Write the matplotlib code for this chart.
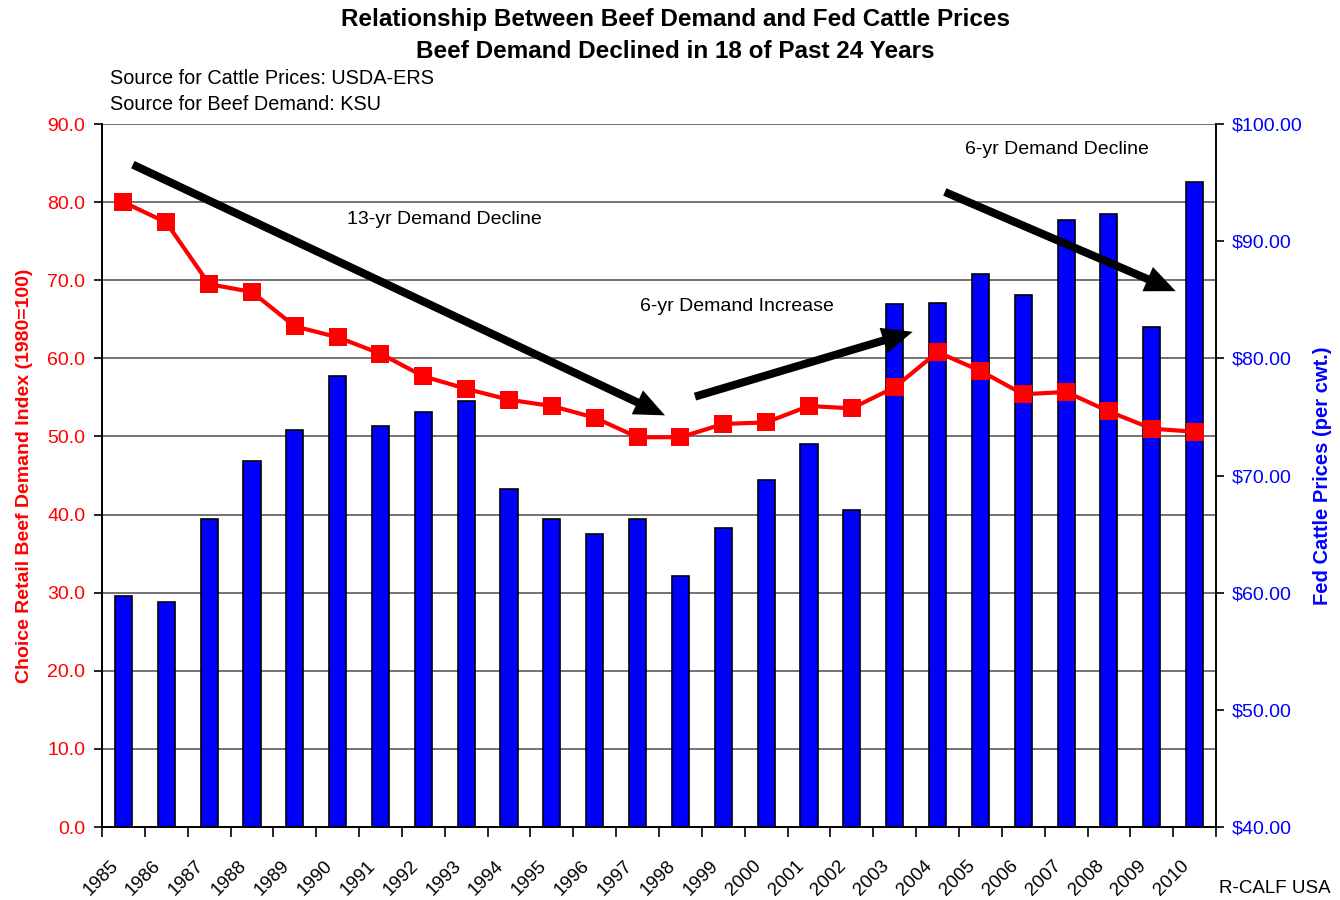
import matplotlib
matplotlib.use('Agg')
import matplotlib.pyplot as plt
from matplotlib.ticker import FuncFormatter, MultipleLocator
from matplotlib.transforms import ScaledTranslation
import numpy as np

plt.rcParams['font.family'] = ['Liberation Sans', 'DejaVu Sans']

years = [str(y) for y in range(1985, 2011)]
# Choice retail beef demand index (1980=100), left axis
demand = [80.0, 77.4, 69.5, 68.5, 64.1, 62.7, 60.6, 57.7, 56.1, 54.7,
          53.9, 52.4, 49.9, 49.9, 51.6, 51.8, 53.9, 53.6, 56.3, 60.8,
          58.4, 55.4, 55.7, 53.2, 51.0, 50.6]
# fed cattle prices ($ per cwt.), right axis
prices = [59.74, 59.23, 66.29, 71.24, 73.85, 78.52, 74.22, 75.39, 76.33, 68.87,
          66.29, 64.97, 66.29, 61.45, 65.48, 69.63, 72.66, 67.05, 84.64, 84.75,
          87.22, 85.40, 91.78, 92.32, 82.67, 95.02]

# annotation arrows: (tail x, tail y, tip x, tip y) in left-axis data units
arrows = [(0.22, 84.8, 12.64, 52.7),
          (13.34, 55.1, 18.42, 63.4),
          (19.17, 81.3, 24.56, 68.6)]
notes = [(7.5, 77.8, '13-yr Demand Decline'),
         (14.32, 66.7, '6-yr Demand Increase'),
         (21.79, 86.8, '6-yr Demand Decline')]

x = np.arange(len(years))

fig = plt.figure(figsize=(13.4, 9), dpi=100)
ax = fig.add_axes([0.0761, 0.0811, 0.8314, 0.7811])
ax2 = ax.twinx()
ax.set_zorder(2)
ax2.set_zorder(1)
ax.patch.set_visible(False)

# bars on the price axis
ax2.bar(x, prices, width=0.4, color='#0000FF', edgecolor='black',
        linewidth=1.2, zorder=2)
ax2.set_ylim(40, 100)
ax2.yaxis.set_major_locator(MultipleLocator(10))
ax2.yaxis.set_major_formatter(FuncFormatter(lambda v, p: f'${v:.2f}'))
ax2.tick_params(axis='y', colors='black', labelcolor='#0000FF', labelsize=14,
                direction='out', length=6, width=1.2, pad=5)
ax2.set_ylabel('Fed Cattle Prices (per cwt.)', color='#0000FF', fontsize=14.5,
               fontweight='bold', labelpad=8)

# gridlines follow the left axis ticks but sit behind the bars
for v in range(10, 90 + 1, 10):
    ax2.axhline(40 + v * 60 / 90, color='#4d4d4d', lw=1.1, zorder=0)

# demand line
ax.plot(x, demand, color='#FF0000', lw=3, marker='s', markersize=13,
        markeredgewidth=0, zorder=3)
ax.set_ylim(0, 90)
ax.set_xlim(-0.5, len(years) - 0.5)
ax.yaxis.set_major_locator(MultipleLocator(10))
ax.yaxis.set_major_formatter(FuncFormatter(lambda v, p: f'{v:.1f}'))
ax.tick_params(axis='y', colors='black', labelcolor='#FF0000', labelsize=14,
               direction='out', length=6, width=1.2, pad=6)
ax.set_ylabel('Choice Retail Beef Demand Index (1980=100)', color='#FF0000',
              fontsize=14, fontweight='bold', labelpad=10)

ax.set_xticks(x)
ax.set_xticklabels(years, rotation=45, ha='right', rotation_mode='anchor',
                   fontsize=13.5)
ax.set_xticks(np.arange(-0.5, len(years)), minor=True)
ax.tick_params(axis='x', which='major', length=0, pad=22)
ax.tick_params(axis='x', which='minor', length=7, width=1.2, direction='out')
shift = ScaledTranslation(-10 / 72, 0, fig.dpi_scale_trans)
for lab in ax.get_xticklabels():
    lab.set_transform(lab.get_transform() + shift)

for a in (ax, ax2):
    a.spines['top'].set_visible(False)
    for s in ('left', 'right', 'bottom'):
        a.spines[s].set_linewidth(1.2)

for tx, ty, hx, hy in arrows:
    ax.annotate('', xy=(hx, hy), xytext=(tx, ty),
                arrowprops=dict(arrowstyle='simple,head_length=2.2,head_width=1.9,tail_width=0.58',
                                mutation_scale=10, facecolor='black',
                                edgecolor='none', shrinkA=0, shrinkB=0),
                zorder=4)
for nx, ny, t in notes:
    ax.text(nx, ny, t, fontsize=14, ha='center', va='center', zorder=4)

fig.text(0.504, 0.978, 'Relationship Between Beef Demand and Fed Cattle Prices',
         fontsize=17.5, fontweight='bold', ha='center', va='center')
fig.text(0.504, 0.943, 'Beef Demand Declined in 18 of Past 24 Years',
         fontsize=17.5, fontweight='bold', ha='center', va='center')
fig.text(0.082, 0.913, 'Source for Cattle Prices: USDA-ERS', fontsize=14.3,
         ha='left', va='center')
fig.text(0.082, 0.884, 'Source for Beef Demand: KSU', fontsize=14.3,
         ha='left', va='center')
fig.text(0.993, 0.013, 'R-CALF USA', fontsize=13.5, ha='right', va='center')

fig.savefig('out.png', dpi=100)
